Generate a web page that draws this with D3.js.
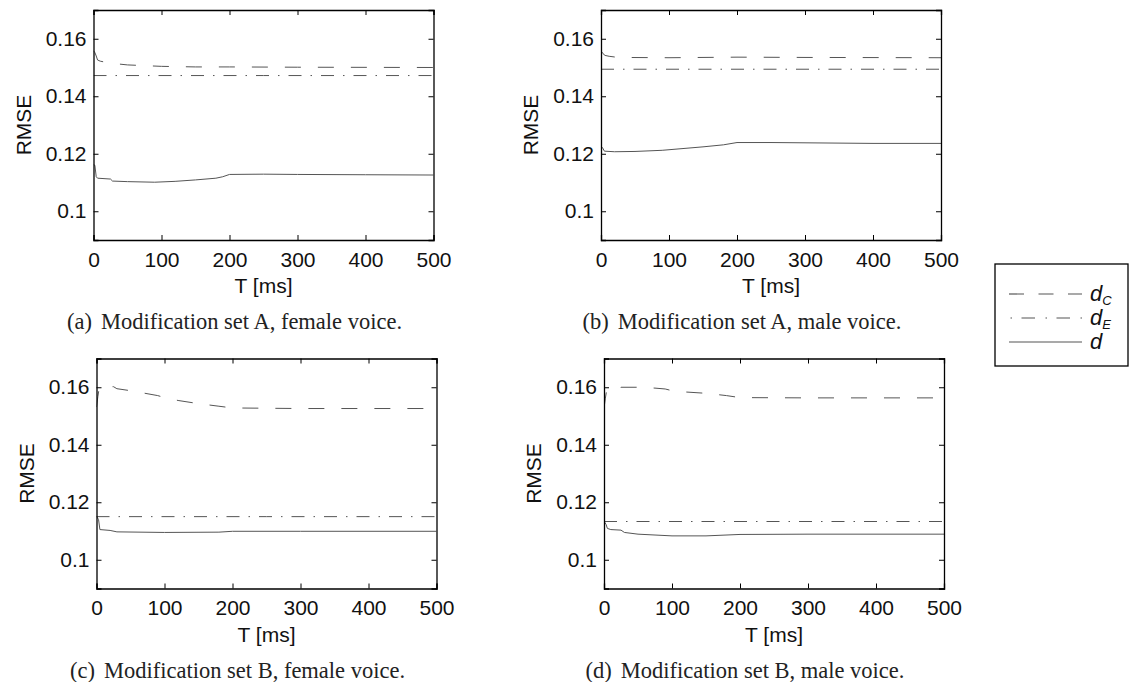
<!DOCTYPE html>
<html><head><meta charset="utf-8">
<script src="https://cdn.jsdelivr.net/npm/d3@7"></script>
<style>
body{margin:0;background:#fff;}
svg{display:block;}
</style></head>
<body>
<svg id="chart" width="1130" height="682"></svg>
<script>
// ---- data ----
const xTicks = [0, 100, 200, 300, 400, 500];
const yTicks = [0.1, 0.12, 0.14, 0.16];
const yTickLabels = ["0.1", "0.12", "0.14", "0.16"];
const panelTags = ["(a)", "(b)", "(c)", "(d)"];
const panelCaptions = ["Modification set A, female voice.", "Modification set A, male voice.",
                       "Modification set B, female voice.", "Modification set B, male voice."];
const seriesNames = ["d_C", "d_E", "d"];

// (a) set A, female
const aF_dC = [[0,0.1558],[2,0.1552],[4,0.1540],[6,0.1526],[10,0.1522],[25,0.1515],[50,0.1509],[100,0.1504],[150,0.1502],[200,0.1502],[300,0.1501],[500,0.1500]];
const aF_dE = [[0,0.1472],[250,0.1472],[500,0.1472]];
const aF_d  = [[0,0.1162],[2,0.1160],[4,0.1120],[6,0.1115],[25,0.1112],[28,0.1105],[50,0.1103],[90,0.1101],[120,0.1104],[150,0.1109],[180,0.1115],[190,0.1120],[200,0.1128],[250,0.1129],[300,0.1128],[400,0.1127],[500,0.1126]];
// (b) set A, male
const aM_dC = [[0,0.1558],[3,0.1548],[6,0.1542],[12,0.1539],[25,0.1535],[100,0.1534],[200,0.1536],[300,0.1535],[500,0.1534]];
const aM_dE = [[0,0.1494],[250,0.1494],[500,0.1494]];
const aM_d  = [[0,0.1225],[2,0.1222],[5,0.1209],[20,0.1207],[50,0.1208],[90,0.1212],[150,0.1224],[180,0.1231],[200,0.1239],[250,0.1239],[300,0.1238],[400,0.1236],[500,0.1236]];
// (c) set B, female
const bF_dC = [[0,0.1531],[2,0.1568],[4,0.1598],[10,0.1602],[25,0.1602],[30,0.1595],[50,0.1588],[90,0.1571],[100,0.1564],[120,0.1554],[150,0.1543],[180,0.1534],[200,0.1528],[250,0.1527],[300,0.1526],[500,0.1526]];
const bF_dE = [[0,0.1150],[250,0.1150],[500,0.1150]];
const bF_d  = [[0,0.1151],[3,0.1140],[5,0.1105],[20,0.1102],[30,0.1097],[100,0.1095],[180,0.1096],[200,0.1099],[300,0.1099],[500,0.1099]];
// (d) set B, male
const bM_dC = [[0,0.1527],[2,0.1562],[4,0.1591],[10,0.1593],[20,0.1594],[25,0.1600],[50,0.1600],[75,0.1597],[90,0.1594],[100,0.1588],[110,0.1585],[150,0.1579],[180,0.1571],[200,0.1564],[300,0.1563],[500,0.1563]];
const bM_dE = [[0,0.1133],[250,0.1133],[500,0.1133]];
const bM_d  = [[0,0.1134],[3,0.1123],[5,0.1109],[10,0.1105],[25,0.1103],[30,0.1095],[50,0.1089],[100,0.1083],[150,0.1083],[200,0.1088],[300,0.1089],[500,0.1089]];

const panelSeries = [[aF_dC, aF_dE, aF_d],[aM_dC, aM_dE, aM_d],[bF_dC, bF_dE, bF_d],[bM_dC, bM_dE, bM_d]];

// ---- layout ----
const panelPos = [
  {left: 93.5, top: 10},
  {left: 601, top: 10},
  {left: 96.5, top: 358.5},
  {left: 604, top: 358.5}
];
const PW = 340, PH = 230;
const sansFont = "'Liberation Sans', Arial, Helvetica, sans-serif";
const serifFont = "'Liberation Serif', 'Times New Roman', serif";
const lineColor = "#555";
const dashes = ["16,17", "13,9,1.5,9", null];
const legendDashes = ["15,14.5", "1.5,9.5,13.5,10.5", null];

const svg = d3.select("#chart");

panelSeries.forEach((series, i) => {
  const p = panelPos[i];
  const g = svg.append("g").attr("transform", `translate(${p.left},${p.top})`);
  const x = d3.scaleLinear().domain([0, 500]).range([0, PW]);
  const y = d3.scaleLinear().domain([0.09, 0.17]).range([PH, 0]);

  const clipId = "clip" + i;
  g.append("clipPath").attr("id", clipId).append("rect").attr("width", PW).attr("height", PH);

  const line = d3.line().x(d => x(d[0])).y(d => y(d[1]));
  series.forEach((s, k) => {
    g.append("path").datum(s)
      .attr("clip-path", `url(#${clipId})`)
      .attr("d", line)
      .attr("fill", "none")
      .attr("stroke", lineColor)
      .attr("stroke-width", 1)
      .attr("stroke-dasharray", dashes[k]);
  });

  // axes with inward ticks on all four sides
  const tickLen = 5;
  const axB = d3.axisBottom(x).tickValues(xTicks).tickSize(-tickLen).tickPadding(10).tickFormat(d3.format("d"));
  const axT = d3.axisTop(x).tickValues(xTicks).tickSize(-tickLen).tickFormat("");
  const axL = d3.axisLeft(y).tickValues(yTicks).tickSize(-tickLen).tickPadding(8).tickFormat((d, j) => yTickLabels[j]);
  const axR = d3.axisRight(y).tickValues(yTicks).tickSize(-tickLen).tickFormat("");

  const gb = g.append("g").attr("transform", `translate(0,${PH})`).call(axB);
  const gt = g.append("g").call(axT);
  const gl = g.append("g").call(axL);
  const gr = g.append("g").attr("transform", `translate(${PW},0)`).call(axR);
  [gb, gt, gl, gr].forEach(a => {
    a.select(".domain").attr("stroke", "#000").attr("stroke-width", 1.3);
    a.selectAll(".tick line").attr("stroke", "#000").attr("stroke-width", 1);
    a.selectAll(".tick text").attr("fill", "#111").style("font-family", sansFont).style("font-size", "21px");
  });
  gb.selectAll(".tick text").attr("dy", "0.71em").attr("y", 12);
  gl.selectAll(".tick text").attr("x", -7);

  g.append("text").attr("x", PW / 2).attr("y", PH + 53).attr("text-anchor", "middle")
    .style("font-family", sansFont).style("font-size", "21px").attr("fill", "#111").text("T [ms]");
  g.append("text").attr("transform", `translate(${-63},${PH / 2}) rotate(-90)`).attr("text-anchor", "middle")
    .style("font-family", sansFont).style("font-size", "21px").attr("fill", "#111").text("RMSE");

  const cap = g.append("text").attr("x", 141).attr("y", PH + 89).attr("text-anchor", "middle")
    .style("font-family", serifFont).style("font-size", "22.5px").attr("fill", "#222");
  cap.append("tspan").text(panelTags[i]);
  cap.append("tspan").attr("dx", 9).text(panelCaptions[i]);
});

// ---- legend ----
const lg = svg.append("g").attr("transform", "translate(995,264)");
lg.append("rect").attr("width", 133).attr("height", 102).attr("fill", "#fff").attr("stroke", "#000").attr("stroke-width", 1.3);
const legendY = d3.scalePoint().domain(seriesNames).range([30, 78]);
seriesNames.forEach((nm, k) => {
  const yy = legendY(nm);
  lg.append("line").attr("x1", k === 1 ? 15.5 : 14).attr("x2", 87).attr("y1", yy).attr("y2", yy)
    .attr("stroke", lineColor).attr("stroke-width", 1.2).attr("stroke-dasharray", legendDashes[k]);
  const t = lg.append("text").attr("x", 95).attr("y", yy + 7)
    .style("font-family", sansFont).style("font-size", "22px").style("font-style", "italic").attr("fill", "#111");
  t.append("tspan").text("d");
  if (nm.indexOf("_") > 0) {
    t.append("tspan").attr("dy", 4).style("font-size", "13px").text(nm.split("_")[1]);
  }
});
</script>
</body></html>
